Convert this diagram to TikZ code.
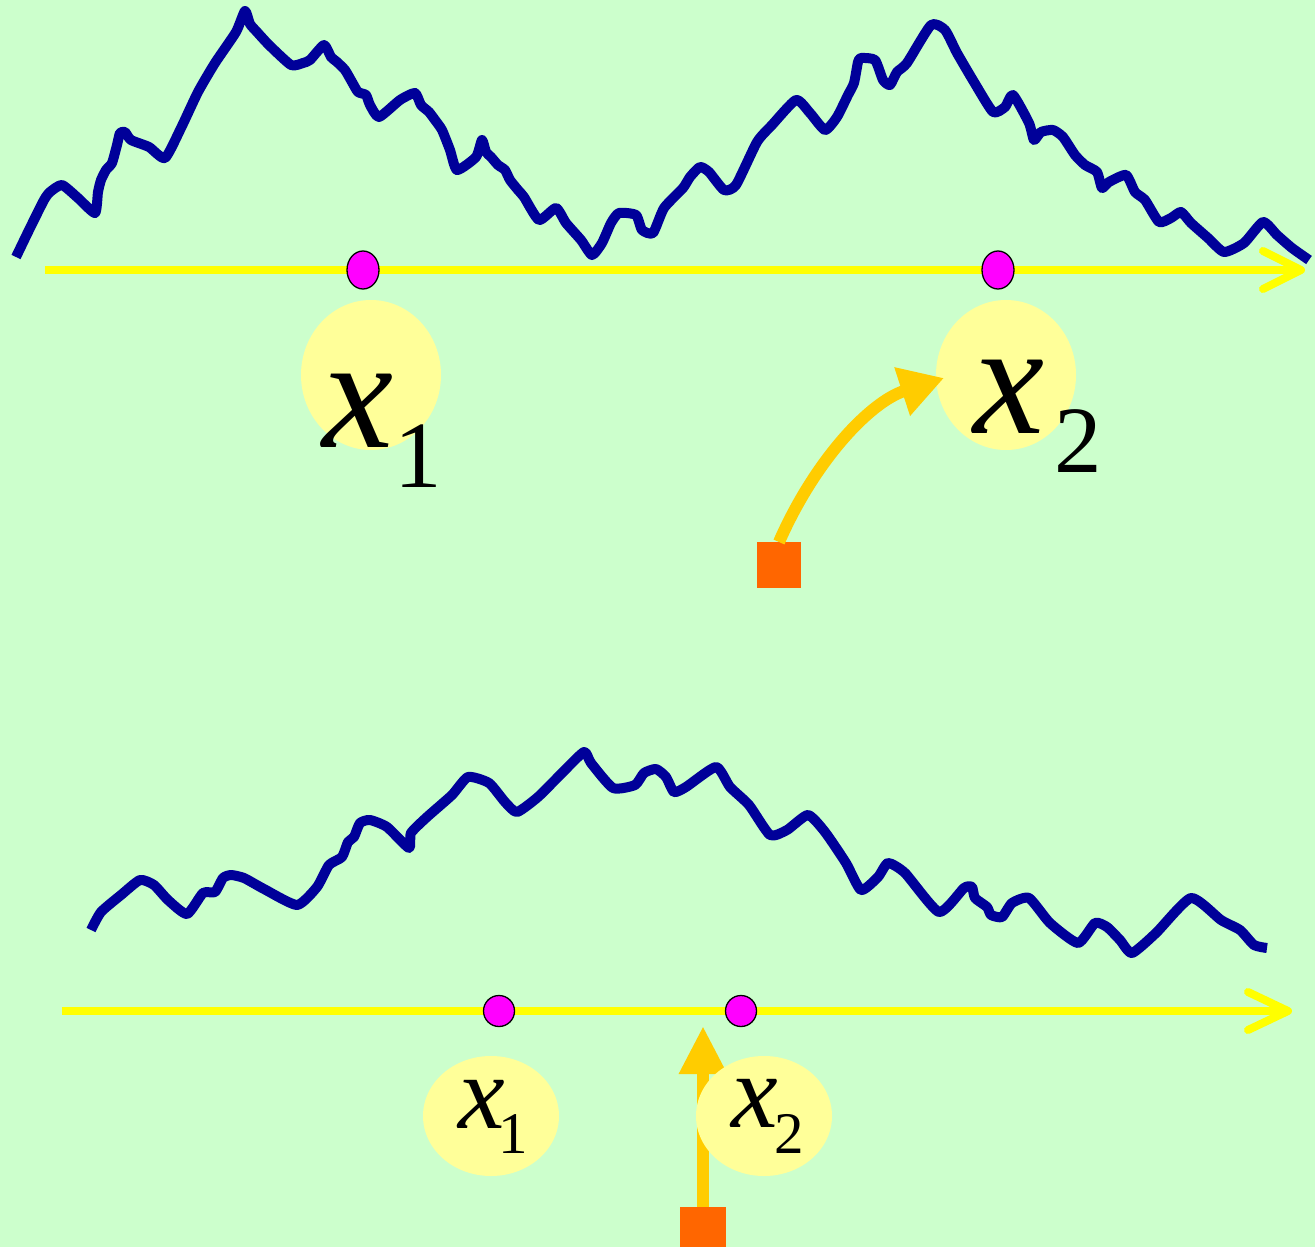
\documentclass[tikz,border=0pt]{standalone}
\usepackage{fontspec}
\setmainfont{Liberation Serif}
\usetikzlibrary{shapes.geometric,arrows.meta,calc}
\definecolor{bgc}{HTML}{CCFFCC}
\definecolor{walk}{HTML}{000099}
\definecolor{axisy}{HTML}{FFFF00}
\definecolor{dotm}{HTML}{FF00FF}
\definecolor{paley}{HTML}{FFFF99}
\definecolor{goldc}{HTML}{FFCC00}
\definecolor{orangec}{HTML}{FF6600}
\tikzset{
  walkline/.style={draw=walk, line width=10pt, line join=round, line cap=butt},
  axisline/.style={draw=axisy, line width=8pt, line cap=butt},
  axisbarb/.style={draw=axisy, line width=8pt, line cap=round, line join=round},
  dotnode/.style={fill=dotm, draw=black, line width=1.3pt, inner sep=0pt, outer sep=0pt},
  lblback/.style={ellipse, fill=paley, inner sep=0pt, outer sep=0pt},
  srcbox/.style={rectangle, fill=orangec, inner sep=0pt, outer sep=0pt},
  moveline/.style={draw=goldc, line width=12pt},
  lbltext/.style={inner sep=0pt, outer sep=0pt, anchor=base west, text=black}
}
\begin{document}
\begin{tikzpicture}[x=1pt,y=-1pt]
\useasboundingbox (0,0) rectangle (1315,1247);
\fill[bgc] (0,0) rectangle (1315,1247);

% axes
\coordinate (a1s) at (45,270);
\coordinate (a1e) at (1301,270);
\coordinate (a2s) at (62,1011);
\coordinate (a2e) at (1288,1011);
\draw[axisline] (a1s) -- (a1e);
\draw[axisbarb] ($(a1e)+(-38,-19)$) -- (a1e) -- ($(a1e)+(-38,19)$);
\draw[axisline] (a2s) -- (a2e);
\draw[axisbarb] ($(a2e)+(-40,-19)$) -- (a2e) -- ($(a2e)+(-40,19)$);

% random walks
\draw[walkline] plot[smooth, tension=0.35] coordinates {
(16,257) (30,228) (44,200) (50,192) (62,185) (78,198) (95,213) (98,192) (101,180) (106,170) (112,163) (117,145) (120,133) (125,132) (131,140) (149,147) (165,158) (181,128) (198,92) (215,63) (236,32) (245,11) (250,24) (257,32) (269,45) (291,65) (303,63) (310,60) (324,45) (331,57) (337,62) (345,70) (352,82) (358,92) (366,95) (370,105) (379,117) (400,100) (415,93) (421,105) (429,112) (435,120) (442,130) (450,150) (457,170) (476,157) (482,140) (486,152) (491,157) (498,165) (505,170) (510,180) (518,190) (524,197) (539,220) (556,208) (566,223) (581,240) (592,255) (602,243) (611,223) (619,213) (636,215) (642,230) (653,233) (664,208) (683,188) (690,177) (700,167) (709,172) (724,190) (736,185) (757,142) (772,125) (796,100) (810,113) (825,130) (837,117) (848,95) (854,83) (858,62) (861,58) (875,60) (883,80) (890,85) (897,72) (907,63) (931,25) (945,30) (957,53) (974,82) (993,112) (1005,107) (1013,95) (1029,123) (1034,140) (1041,132) (1053,130) (1063,137) (1075,155) (1085,165) (1097,172) (1102,188) (1109,182) (1126,175) (1135,192) (1145,200) (1159,222) (1171,218) (1181,212) (1191,223) (1208,238) (1224,252) (1244,243) (1263,222) (1277,235) (1292,248) (1309,260)};
\draw[walkline] plot[smooth, tension=0.35] coordinates {
(91,930) (101,912) (121,895) (140,880) (154,885) (168,900) (187,914) (203,893) (215,892) (223,878) (231,875) (244,878) (264,889) (297,905) (317,887) (329,865) (342,857) (348,842) (354,837) (360,823) (370,820) (387,827) (409,848) (411,833) (427,817) (452,795) (468,777) (489,783) (505,802) (517,812) (538,797) (562,773) (584,752) (591,763) (613,788) (635,785) (644,773) (656,769) (666,777) (674,792) (686,787) (716,767) (730,787) (749,805) (770,835) (787,830) (808,815) (825,832) (846,863) (861,890) (878,877) (888,863) (905,873) (939,912) (964,888) (972,887) (975,898) (987,907) (991,915) (1002,917) (1012,903) (1029,898) (1050,923) (1078,943) (1095,923) (1107,927) (1120,940) (1132,953) (1156,933) (1191,898) (1221,920) (1240,930) (1254,945) (1267,948)};

% points on axes
\node[dotnode, ellipse, minimum width=32pt, minimum height=38pt] (p1) at (363,270) {};
\node[dotnode, ellipse, minimum width=32pt, minimum height=38pt] (p2) at (998,270) {};
\node[dotnode, circle, minimum size=31pt] (q1) at (499,1011) {};
\node[dotnode, circle, minimum size=31pt] (q2) at (741,1011) {};

% sources and moves
\node[srcbox, minimum width=44pt, minimum height=46pt] (sA) at (779,565) {};
\node[srcbox, minimum width=46pt, minimum height=46pt] (sB) at (703,1230) {};
\coordinate (tipB) at (703,1026);

\node[lblback, minimum width=140pt, minimum height=150pt] (e1) at (371,375) {};
\node[lblback, minimum width=140pt, minimum height=150pt] (e2) at (1006,375) {};
\coordinate (tipA) at ($(e2.west)+(8,3)$);
\draw[moveline, -{Triangle[length=44pt,width=48pt]}] (sA.north) .. controls (815,460) and (870,402) .. (tipA);
\draw[moveline, -{Triangle[length=48pt,width=45pt]}] (sB.north) -- (tipB);

\node[lblback, minimum width=136pt, minimum height=120pt] (f1) at (491,1116) {};
\node[lblback, minimum width=136pt, minimum height=120pt] (f2) at (764,1116) {};

% labels
\node[lbltext] (t1) at (322,447) {\fontsize{160}{160}\selectfont\itshape x\hspace{1pt}\raisebox{-40pt}{\fontsize{95}{95}\selectfont\upshape 1}};
\node[lbltext] (t2) at (973,433) {\fontsize{160}{160}\selectfont\itshape x\hspace{10pt}\raisebox{-39pt}{\fontsize{95}{95}\selectfont\upshape 2}};
\node[lbltext] (u1) at (458,1128) {\fontsize{105}{105}\selectfont\itshape x\hspace{-6pt}\raisebox{-25pt}{\fontsize{59}{59}\selectfont\upshape 1}};
\node[lbltext] (u2) at (731,1127) {\fontsize{105}{105}\selectfont\itshape x\hspace{-3pt}\raisebox{-26pt}{\fontsize{59}{59}\selectfont\upshape 2}};
\end{tikzpicture}
\end{document}
